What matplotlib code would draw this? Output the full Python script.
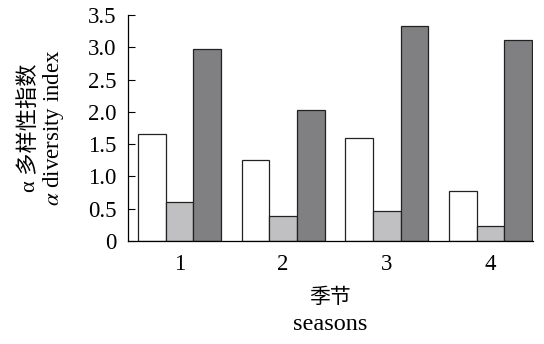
import numpy as np
import matplotlib.pyplot as plt

plt.rcParams['font.family'] = ['Liberation Serif', 'Noto Sans CJK SC']
plt.rcParams['mathtext.fontset'] = 'stix'

# alpha diversity per season, three indices
seasons = ['1', '2', '3', '4']
index_a = [1.65, 1.26, 1.60, 0.78]
index_b = [0.61, 0.38, 0.47, 0.23]
index_c = [2.97, 2.03, 3.33, 3.11]
y_ticks = [0, 0.5, 1.0, 1.5, 2.0, 2.5, 3.0, 3.5]
y_tick_labels = ['0', '0.5', '1.0', '1.5', '2.0', '2.5', '3.0', '3.5']

fig = plt.figure(figsize=(5.44, 3.44), dpi=100)
ax = fig.add_axes([0.235, 0.2994, 0.745, 0.657])

x = np.arange(1, len(seasons) + 1)
w = 0.267
colors = ['white', '#c0c0c2', '#808083']
for off, vals, c in zip([-w, 0, w], [index_a, index_b, index_c], colors):
    ax.bar(x + off, vals, width=w, color=c, edgecolor='#222222', linewidth=0.9)

ax.set_xlim(0.503, 4.41)
ax.set_ylim(0, 3.5)
ax.set_xticks(x)
ax.set_xticklabels(seasons)
ax.set_yticks(y_ticks)
ax.set_yticklabels(y_tick_labels)
ax.tick_params(axis='y', direction='in', length=5, labelsize=16.5, pad=8)
ax.tick_params(axis='x', length=0, labelsize=16.5, pad=9)

for s in ['top', 'right']:
    ax.spines[s].set_visible(False)
ax.spines['left'].set_linewidth(0.9)
ax.spines['bottom'].set_linewidth(0.9)

# two-line axis titles, Chinese over English
fig.text(30 / 544, 1 - 128 / 344, 'α 多样性指数', rotation=90,
         ha='center', va='center', fontsize=16)
fig.text(53 / 544, 1 - 128 / 344, r'$\alpha$ diversity index', rotation=90,
         ha='center', va='center', fontsize=16.5)
fig.text(330 / 544, 1 - 298 / 344, '季节', ha='center', va='center', fontsize=15)
fig.text(330 / 544, 1 - 325 / 344, 'seasons', ha='center', va='center', fontsize=17.5)

fig.savefig('out.png', dpi=100)
